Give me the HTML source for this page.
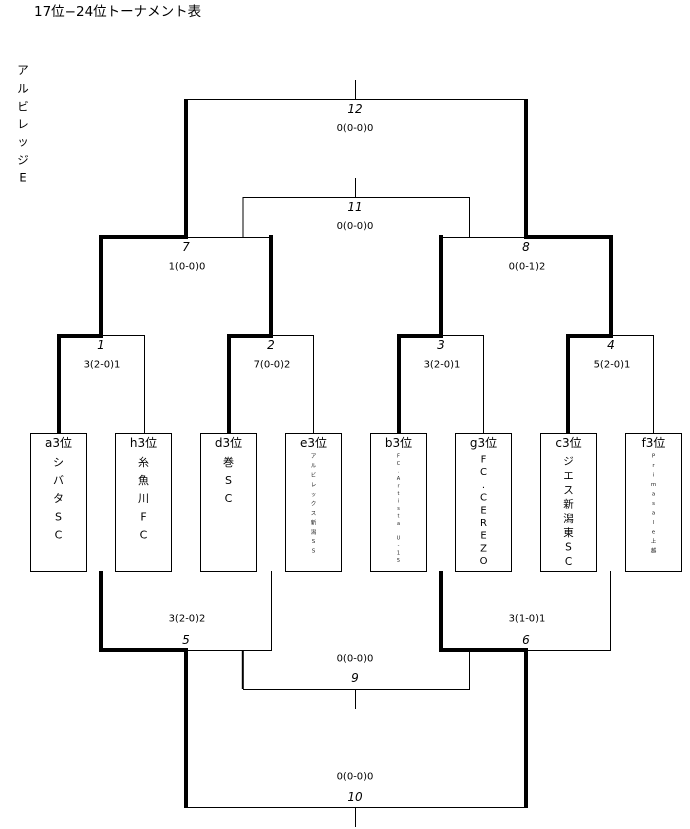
<!DOCTYPE html>
<html><head><meta charset="utf-8">
<style>
html,body{margin:0;padding:0;background:#fff;}
body{width:690px;height:829px;overflow:hidden;}
svg{display:block;}
text{font-family:"DejaVu Sans","Liberation Sans","Noto Sans CJK JP",sans-serif;fill:#000;}
.lab{font-size:12px;font-style:italic;text-anchor:middle;dominant-baseline:central;}
.sc{font-size:10px;text-anchor:middle;dominant-baseline:central;}
.hd{font-size:12px;text-anchor:middle;dominant-baseline:central;}
.nm{font-size:11px;text-anchor:middle;dominant-baseline:central;}
.tn{font-size:5.5px;text-anchor:middle;dominant-baseline:central;fill:#222;}
.tb{font-size:5px;text-anchor:middle;dominant-baseline:central;fill:#222;}
</style></head>
<body>
<svg width="690" height="829" viewBox="0 0 690 829" xmlns="http://www.w3.org/2000/svg">
<text x="34" y="12" style="font-size:13.5px;dominant-baseline:central;">17位−24位トーナメント表</text>
<g style="font-size:11.5px;text-anchor:middle;dominant-baseline:central;">
<text x="23" y="70">ア</text><text x="23" y="88.3">ル</text><text x="23" y="106.7">ビ</text><text x="23" y="124">レ</text><text x="23" y="141.7">ッ</text><text x="23" y="160">ジ</text><text x="23" y="177.7">E</text>
</g>

<g stroke="#000" stroke-width="1" fill="none" shape-rendering="crispEdges">
<path d="M355.5 80 V99"/>
<path d="M186 99.5 H526"/>
<path d="M355.5 178 V197"/>
<path d="M243 197.5 H469.5"/>
<path d="M243 197 V237"/>
<path d="M469.5 197 V237"/>
<path d="M186 237.5 H271"/>
<path d="M441 237.5 H526"/>
<path d="M101 335.5 H144.5 V433"/>
<path d="M271 335.5 H313.5 V433"/>
<path d="M441 335.5 H483.5 V433"/>
<path d="M611 335.5 H653.5 V433"/>
<path d="M271.5 571 V650.5 H186"/>
<path d="M610.5 571 V650.5 H526"/>
<path d="M469.5 650 V689.5 H243"/>
<path d="M355.5 689 V709"/>
<path d="M186 807.5 H526"/>
<path d="M355.5 807 V827"/>
</g>
<path d="M242.8 650 V689" stroke="#000" stroke-width="2" fill="none"/>

<g stroke="#000" stroke-width="4" fill="none" stroke-linejoin="miter" stroke-linecap="butt">
<path d="M186 99 V237 H101 V336 H59 V433"/>
<path d="M271 235 V336 H229 V433"/>
<path d="M441 235 V336 H399 V433"/>
<path d="M526 99 V237 H611 V336 H568 V433"/>
<path d="M101 571 V650 H186 V808"/>
<path d="M441 571 V650 H526 V808"/>
</g>

<g stroke="#000" stroke-width="1" fill="#fff" shape-rendering="crispEdges">
<rect x="30.5" y="433.5" width="56" height="138"/>
<rect x="115.5" y="433.5" width="56" height="138"/>
<rect x="200.5" y="433.5" width="56" height="138"/>
<rect x="285.5" y="433.5" width="56" height="138"/>
<rect x="370.5" y="433.5" width="56" height="138"/>
<rect x="455.5" y="433.5" width="56" height="138"/>
<rect x="540.5" y="433.5" width="56" height="138"/>
<rect x="625.5" y="433.5" width="56" height="138"/>
</g>

<text class="lab" x="355" y="109">12</text>
<text class="sc" x="355" y="128.5">0(0-0)0</text>
<text class="lab" x="355" y="207">11</text>
<text class="sc" x="355" y="226.5">0(0-0)0</text>
<text class="lab" x="186" y="247">7</text>
<text class="sc" x="187" y="267">1(0-0)0</text>
<text class="lab" x="526" y="247">8</text>
<text class="sc" x="527" y="267">0(0-1)2</text>
<text class="lab" x="101" y="345">1</text>
<text class="sc" x="102" y="365">3(2-0)1</text>
<text class="lab" x="271" y="345">2</text>
<text class="sc" x="272" y="365">7(0-0)2</text>
<text class="lab" x="441" y="345">3</text>
<text class="sc" x="442" y="365">3(2-0)1</text>
<text class="lab" x="611" y="345">4</text>
<text class="sc" x="612" y="365">5(2-0)1</text>
<text class="sc" x="187" y="619">3(2-0)2</text>
<text class="lab" x="186" y="640">5</text>
<text class="sc" x="527" y="619">3(1-0)1</text>
<text class="lab" x="526" y="640">6</text>
<text class="sc" x="355" y="659">0(0-0)0</text>
<text class="lab" x="355" y="678">9</text>
<text class="sc" x="355" y="777">0(0-0)0</text>
<text class="lab" x="355" y="797">10</text>

<text class="hd" x="58.5" y="443">a3位</text>
<text class="hd" x="143.5" y="443">h3位</text>
<text class="hd" x="228.5" y="443">d3位</text>
<text class="hd" x="313.5" y="443">e3位</text>
<text class="hd" x="398.5" y="443">b3位</text>
<text class="hd" x="483.5" y="443">g3位</text>
<text class="hd" x="568.5" y="443">c3位</text>
<text class="hd" x="653.5" y="443">f3位</text>

<g class="nm">
<text class="nm" x="58.5" y="462.3">シ</text><text class="nm" x="58.5" y="480.5">バ</text><text class="nm" x="58.5" y="498.7">タ</text><text class="nm" x="58.5" y="516.9">S</text><text class="nm" x="58.5" y="535.1">C</text>
<text class="nm" x="143.5" y="462.3">糸</text><text class="nm" x="143.5" y="480.5">魚</text><text class="nm" x="143.5" y="498.7">川</text><text class="nm" x="143.5" y="516.9">F</text><text class="nm" x="143.5" y="535.1">C</text>
<text class="nm" x="228.5" y="462.3">巻</text><text class="nm" x="228.5" y="480.5">S</text><text class="nm" x="228.5" y="498.7">C</text>
</g>

<g>
<text class="tn" x="313.5" y="457">ア</text><text class="tn" x="313.5" y="466.5">ル</text><text class="tn" x="313.5" y="475.9">ビ</text><text class="tn" x="313.5" y="485.4">レ</text><text class="tn" x="313.5" y="494.9">ッ</text><text class="tn" x="313.5" y="504.4">ク</text><text class="tn" x="313.5" y="513.8">ス</text><text class="tn" x="313.5" y="523.3">新</text><text class="tn" x="313.5" y="532.8">潟</text><text class="tn" x="313.5" y="542.2">S</text><text class="tn" x="313.5" y="551.7">S</text>
</g>

<g>
<text class="tb" x="398.5" y="456.7">F</text><text class="tb" x="398.5" y="464.2">C</text><text class="tb" x="398.5" y="471.6">.</text><text class="tb" x="398.5" y="479.1">A</text><text class="tb" x="398.5" y="486.5">r</text><text class="tb" x="398.5" y="494">t</text><text class="tb" x="398.5" y="501.4">i</text><text class="tb" x="398.5" y="508.9">s</text><text class="tb" x="398.5" y="516.3">t</text><text class="tb" x="398.5" y="523.8">a</text><text class="tb" x="398.5" y="538.7">U</text><text class="tb" x="398.5" y="546.1">-</text><text class="tb" x="398.5" y="553.6">1</text><text class="tb" x="398.5" y="561">5</text>
</g>

<g style="font-size:10px;">
<text x="483.5" y="460" style="font-size:10px;text-anchor:middle;dominant-baseline:central;">F</text>
<text x="483.5" y="472.7" style="font-size:10px;text-anchor:middle;dominant-baseline:central;">C</text>
<text x="483.5" y="485.4" style="font-size:10px;text-anchor:middle;dominant-baseline:central;">.</text>
<text x="483.5" y="498.1" style="font-size:10px;text-anchor:middle;dominant-baseline:central;">C</text>
<text x="483.5" y="510.8" style="font-size:10px;text-anchor:middle;dominant-baseline:central;">E</text>
<text x="483.5" y="523.5" style="font-size:10px;text-anchor:middle;dominant-baseline:central;">R</text>
<text x="483.5" y="536.2" style="font-size:10px;text-anchor:middle;dominant-baseline:central;">E</text>
<text x="483.5" y="548.9" style="font-size:10px;text-anchor:middle;dominant-baseline:central;">Z</text>
<text x="483.5" y="561.6" style="font-size:10px;text-anchor:middle;dominant-baseline:central;">O</text>
</g>

<g>
<text x="568.5" y="461.7" style="font-size:10.5px;text-anchor:middle;dominant-baseline:central;">ジ</text>
<text x="568.5" y="476" style="font-size:10.5px;text-anchor:middle;dominant-baseline:central;">エ</text>
<text x="568.5" y="490.3" style="font-size:10.5px;text-anchor:middle;dominant-baseline:central;">ス</text>
<text x="568.5" y="504.6" style="font-size:10.5px;text-anchor:middle;dominant-baseline:central;">新</text>
<text x="568.5" y="518.9" style="font-size:10.5px;text-anchor:middle;dominant-baseline:central;">潟</text>
<text x="568.5" y="533.2" style="font-size:10.5px;text-anchor:middle;dominant-baseline:central;">東</text>
<text x="568.5" y="547.5" style="font-size:10.5px;text-anchor:middle;dominant-baseline:central;">S</text>
<text x="568.5" y="561.8" style="font-size:10.5px;text-anchor:middle;dominant-baseline:central;">C</text>
</g>

<g>
<text class="tn" x="653.5" y="456.7">P</text><text class="tn" x="653.5" y="466.2">r</text><text class="tn" x="653.5" y="475.7">i</text><text class="tn" x="653.5" y="485.2">m</text><text class="tn" x="653.5" y="494.7">a</text><text class="tn" x="653.5" y="504.2">s</text><text class="tn" x="653.5" y="513.7">a</text><text class="tn" x="653.5" y="523.2">l</text><text class="tn" x="653.5" y="532.7">e</text><text class="tn" x="653.5" y="542.2">上</text><text class="tn" x="653.5" y="551.7">越</text>
</g>
</svg>
</body></html>
